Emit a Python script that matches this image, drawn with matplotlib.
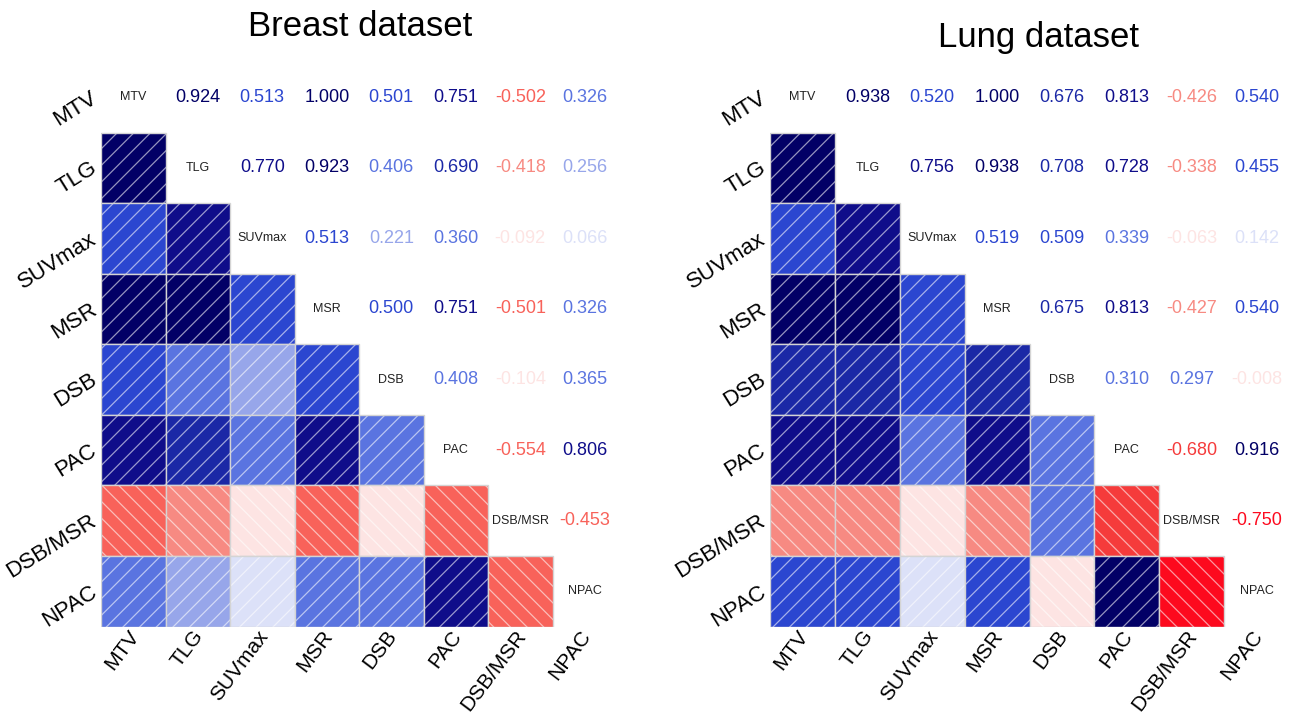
import numpy as np
import matplotlib
matplotlib.use("Agg")
import matplotlib.pyplot as plt
from matplotlib.patches import Rectangle
from matplotlib.colors import to_rgb

plt.rcParams['font.family'] = ['Liberation Sans', 'DejaVu Sans']
plt.rcParams['hatch.linewidth'] = 0.9

labels = ["MTV", "TLG", "SUVmax", "MSR", "DSB", "PAC", "DSB/MSR", "NPAC"]

# upper triangle, row by row (row i holds correlations with columns i+1 .. 7)
breast_upper = [
    [0.924, 0.513, 1.000, 0.501, 0.751, -0.502, 0.326],
    [0.770, 0.923, 0.406, 0.690, -0.418, 0.256],
    [0.513, 0.221, 0.360, -0.092, 0.066],
    [0.500, 0.751, -0.501, 0.326],
    [0.408, -0.104, 0.365],
    [-0.554, 0.806],
    [-0.453],
]
lung_upper = [
    [0.938, 0.520, 1.000, 0.676, 0.813, -0.426, 0.540],
    [0.756, 0.938, 0.708, 0.728, -0.338, 0.455],
    [0.519, 0.509, 0.339, -0.063, 0.142],
    [0.675, 0.813, -0.427, 0.540],
    [0.310, 0.297, -0.008],
    [-0.680, 0.916],
    [-0.750],
]

# 7 colour steps per sign, each 1/7 wide
pos_colors = ["#dce1f8", "#97a6ea", "#5a74e0", "#2b46d0", "#1b28a6", "#0f0d8a", "#020066"]
neg_colors = ["#fde4e3", "#fbb4ad", "#f78a82", "#f8625a", "#f53b3b", "#fd0a1e", "#b2001a"]


def full_matrix(upper):
    n = len(upper) + 1
    m = np.eye(n)
    for i, row in enumerate(upper):
        for k, v in enumerate(row):
            j = i + 1 + k
            m[i, j] = v
            m[j, i] = v
    return m


def bin_color(v):
    k = min(int(abs(v) * 7), 6)
    return pos_colors[k] if v >= 0 else neg_colors[k]


def draw_corr(ax, m, names):
    n = len(names)
    for i in range(n):
        for j in range(n):
            v = m[i, j]
            if i == j:
                ax.text(j, i, names[i], ha='center', va='center',
                        fontsize=9, color='#222222')
            elif j > i:
                ax.text(j, i, f"{v:.3f}", ha='center', va='center',
                        fontsize=13, color=bin_color(v))
            else:
                face = np.array(to_rgb(bin_color(v)))
                hatch_col = 0.42 * face + 0.58 * np.ones(3)
                ax.add_patch(Rectangle((j - 0.5, i - 0.5), 1, 1,
                                       facecolor=face, edgecolor=hatch_col,
                                       hatch='//' if v >= 0 else '\\\\',
                                       linewidth=0))
                ax.add_patch(Rectangle((j - 0.5, i - 0.5), 1, 1,
                                       facecolor='none', edgecolor='#d4d4d4',
                                       linewidth=1.0))
    for i, name in enumerate(names):
        ax.text(-0.55, i + 0.05, name, rotation=32, ha='right', va='baseline',
                rotation_mode='anchor', fontsize=16)
        ax.text(i + 0.1, n - 0.5 + 0.13, name, rotation=53, ha='right',
                va='baseline', rotation_mode='anchor', fontsize=15)
    ax.set_xlim(-0.5, n - 0.5)
    ax.set_ylim(n - 0.5, -0.5)
    ax.axis('off')


fig = plt.figure(figsize=(12.92, 7.19), dpi=100)
ax1 = fig.add_axes([101 / 1292, 1 - 626.5 / 719, 516 / 1292, 564.5 / 719])
ax2 = fig.add_axes([770 / 1292, 1 - 626.5 / 719, 519 / 1292, 564.5 / 719])

draw_corr(ax1, full_matrix(breast_upper), labels)
draw_corr(ax2, full_matrix(lung_upper), labels)

fig.text(360 / 1292, 1 - 27 / 719, "Breast dataset", ha='center', va='center', fontsize=25)
fig.text(1038 / 1292, 1 - 38 / 719, "Lung dataset", ha='center', va='center', fontsize=25)

fig.savefig("out.png", dpi=100)
